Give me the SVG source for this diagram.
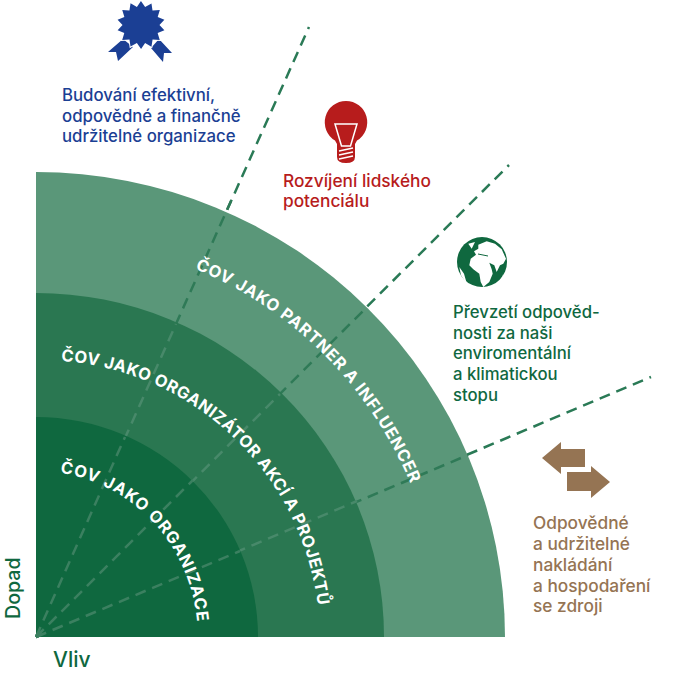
<svg xmlns="http://www.w3.org/2000/svg" width="686" height="679" viewBox="0 0 686 679">
<style>
text{font-family:"Inter","Liberation Sans",sans-serif;font-weight:500}
.b{fill:#1b3f94;font-size:16.8px}.r{fill:#b71c1c;font-size:17.3px}.g{fill:#0f683f;font-size:16.7px}.t{fill:#957453;font-size:17.3px}
.w{fill:#fff;font-weight:700;font-size:16.5px}
.d{stroke:#2a7a56;stroke-width:2.5;stroke-dasharray:11 7;fill:none}
</style>
<rect width="686" height="679" fill="#fff"/>
<g id="connectors-back"><path class="d" d="M36 637L309 27M36 637L509 165M36 637L651 377"/></g>
<g id="rings">
<path id="ring-outer" fill="#5a9779" d="M36 172A469 465 0 0 1 505 637H36Z"/>
<path class="d" style="stroke:#2f7a57" d="M36 637L231 201M36 637L366 308M36 637L468 455"/>
<path id="ring-mid" fill="#2a7751" d="M36 293A348 344 0 0 1 384 637H36Z"/>
<path class="d" style="stroke:#48896a" d="M36 637L176 324M36 637L280 394M36 637L357 501"/>
<path id="ring-inner" fill="#0f683f" d="M36 417A222 220 0 0 1 258 637H36Z"/>
<path class="d" style="stroke:#3b8060" d="M36 637L125 437M36 637L193 480M36 637L240 551"/>
</g>
<defs>
<path id="p1" d="M195 269A392 405 0 0 1 409 480"/>
<path id="p2" d="M61 361A278 280 0 0 1 318 607"/>
<path id="p3" d="M60 473A160 166 0 0 1 197 620"/>
</defs>
<text class="w"><textPath href="#p1" textLength="312">ČOV JAKO PARTNER A INFLUENCER</textPath></text>
<text class="w"><textPath href="#p2" textLength="384">ČOV JAKO ORGANIZÁTOR AKCÍ A PROJEKTŮ</textPath></text>
<text class="w"><textPath href="#p3" textLength="218">ČOV JAKO ORGANIZACE</textPath></text>
<g id="node-budovani">
<path class="b" d="M123 39L133 47L118 61L116 52H108ZM159 39L172 53H164L163 62L151 48Z"/>
<polygon class="b" stroke="#fff" stroke-width="2" paint-order="stroke" transform="translate(141 25) rotate(12.86)" points="24,0 18,4.1 21.6,10.4 14.5,11.5 15,18.8 8,16.7 5.4,23.4 0,18.5 -5.4,23.4 -8,16.7 -15,18.8 -14.5,11.5 -21.6,10.4 -18,4.1 -24,0 -18,-4.1 -21.6,-10.4 -14.5,-11.5 -15,-18.8 -8,-16.7 -5.4,-23.4 0,-18.5 5.4,-23.4 8,-16.7 15,-18.8 14.5,-11.5 21.6,-10.4 18,-4.1"/>
<text class="b" x="62" y="101">Budování efektivní,</text>
<text class="b" x="62" y="122">odpovědné a finančně</text>
<text class="b" x="62" y="142">udržitelné organizace</text>
</g>
<g id="node-rozvijeni">
<path class="r" d="M346 101A21.3 21.3 0 0 1 357 140.5L355 144V157Q355 163 346 163Q337 163 337 157V144L335 140.5A21.3 21.3 0 0 1 346 101Z"/>
<path d="M335 124H357L350.5 146H341.5Z" fill="none" stroke="#fff" stroke-width="1.5"/>
<path d="M339 151L353 148M339 155L353 152M339 159L353 156" stroke="#fff" stroke-width="1.5"/>
<text class="r" x="283" y="187">Rozvíjení lidského</text>
<text class="r" x="283" y="207">potenciálu</text>
</g>
<g id="node-prevzeti">
<circle class="g" cx="482" cy="262" r="25"/>
<path fill="#fff" d="M478.3 244.7L486.7 241.3L495 243.7L501.7 249.3L506 258.7L503.3 263.7L500 265.3L496.7 272L494.3 265.3L489.3 262.7L491.7 269.3L492.7 273.7L489.3 282L483.3 287L480.7 282L479.3 273.7L473.3 269.3L469.3 265.3L470.7 258.7L476 254.7L474 251.3L478.3 248.7ZM459.3 267L461 275.3L467.3 285.3L464 273.7ZM468.3 243.7L475 242L471.7 248.7ZM500 282L503.3 273.7L501 284Z"/>
<path d="M478 254L488 256" stroke="#0f683f" fill="none"/>
<text class="g" x="453" y="318">Převzetí odpověd-</text>
<text class="g" x="453" y="339">nosti za naši</text>
<text class="g" x="453" y="359">enviromentální</text>
<text class="g" x="453" y="380">a klimatickou</text>
<text class="g" x="453" y="401">stopu</text>
</g>
<g id="node-odpovedne">
<path class="t" d="M542 458L561 442V449H585V467H561V474ZM610 482L591 498V491H567V472H591V466Z"/>
<text class="t" x="533" y="529">Odpovědné</text>
<text class="t" x="533" y="550">a udržitelné</text>
<text class="t" x="533" y="571">nakládání</text>
<text class="t" x="533" y="592">a hospodaření</text>
<text class="t" x="533" y="612">se zdroji</text>
</g>
<g id="axes">
<text class="g" x="53" y="667" style="font-size:21px">Vliv</text>
<text class="g" transform="translate(20 619) rotate(-90)" style="font-size:19.6px">Dopad</text>
</g>
</svg>
